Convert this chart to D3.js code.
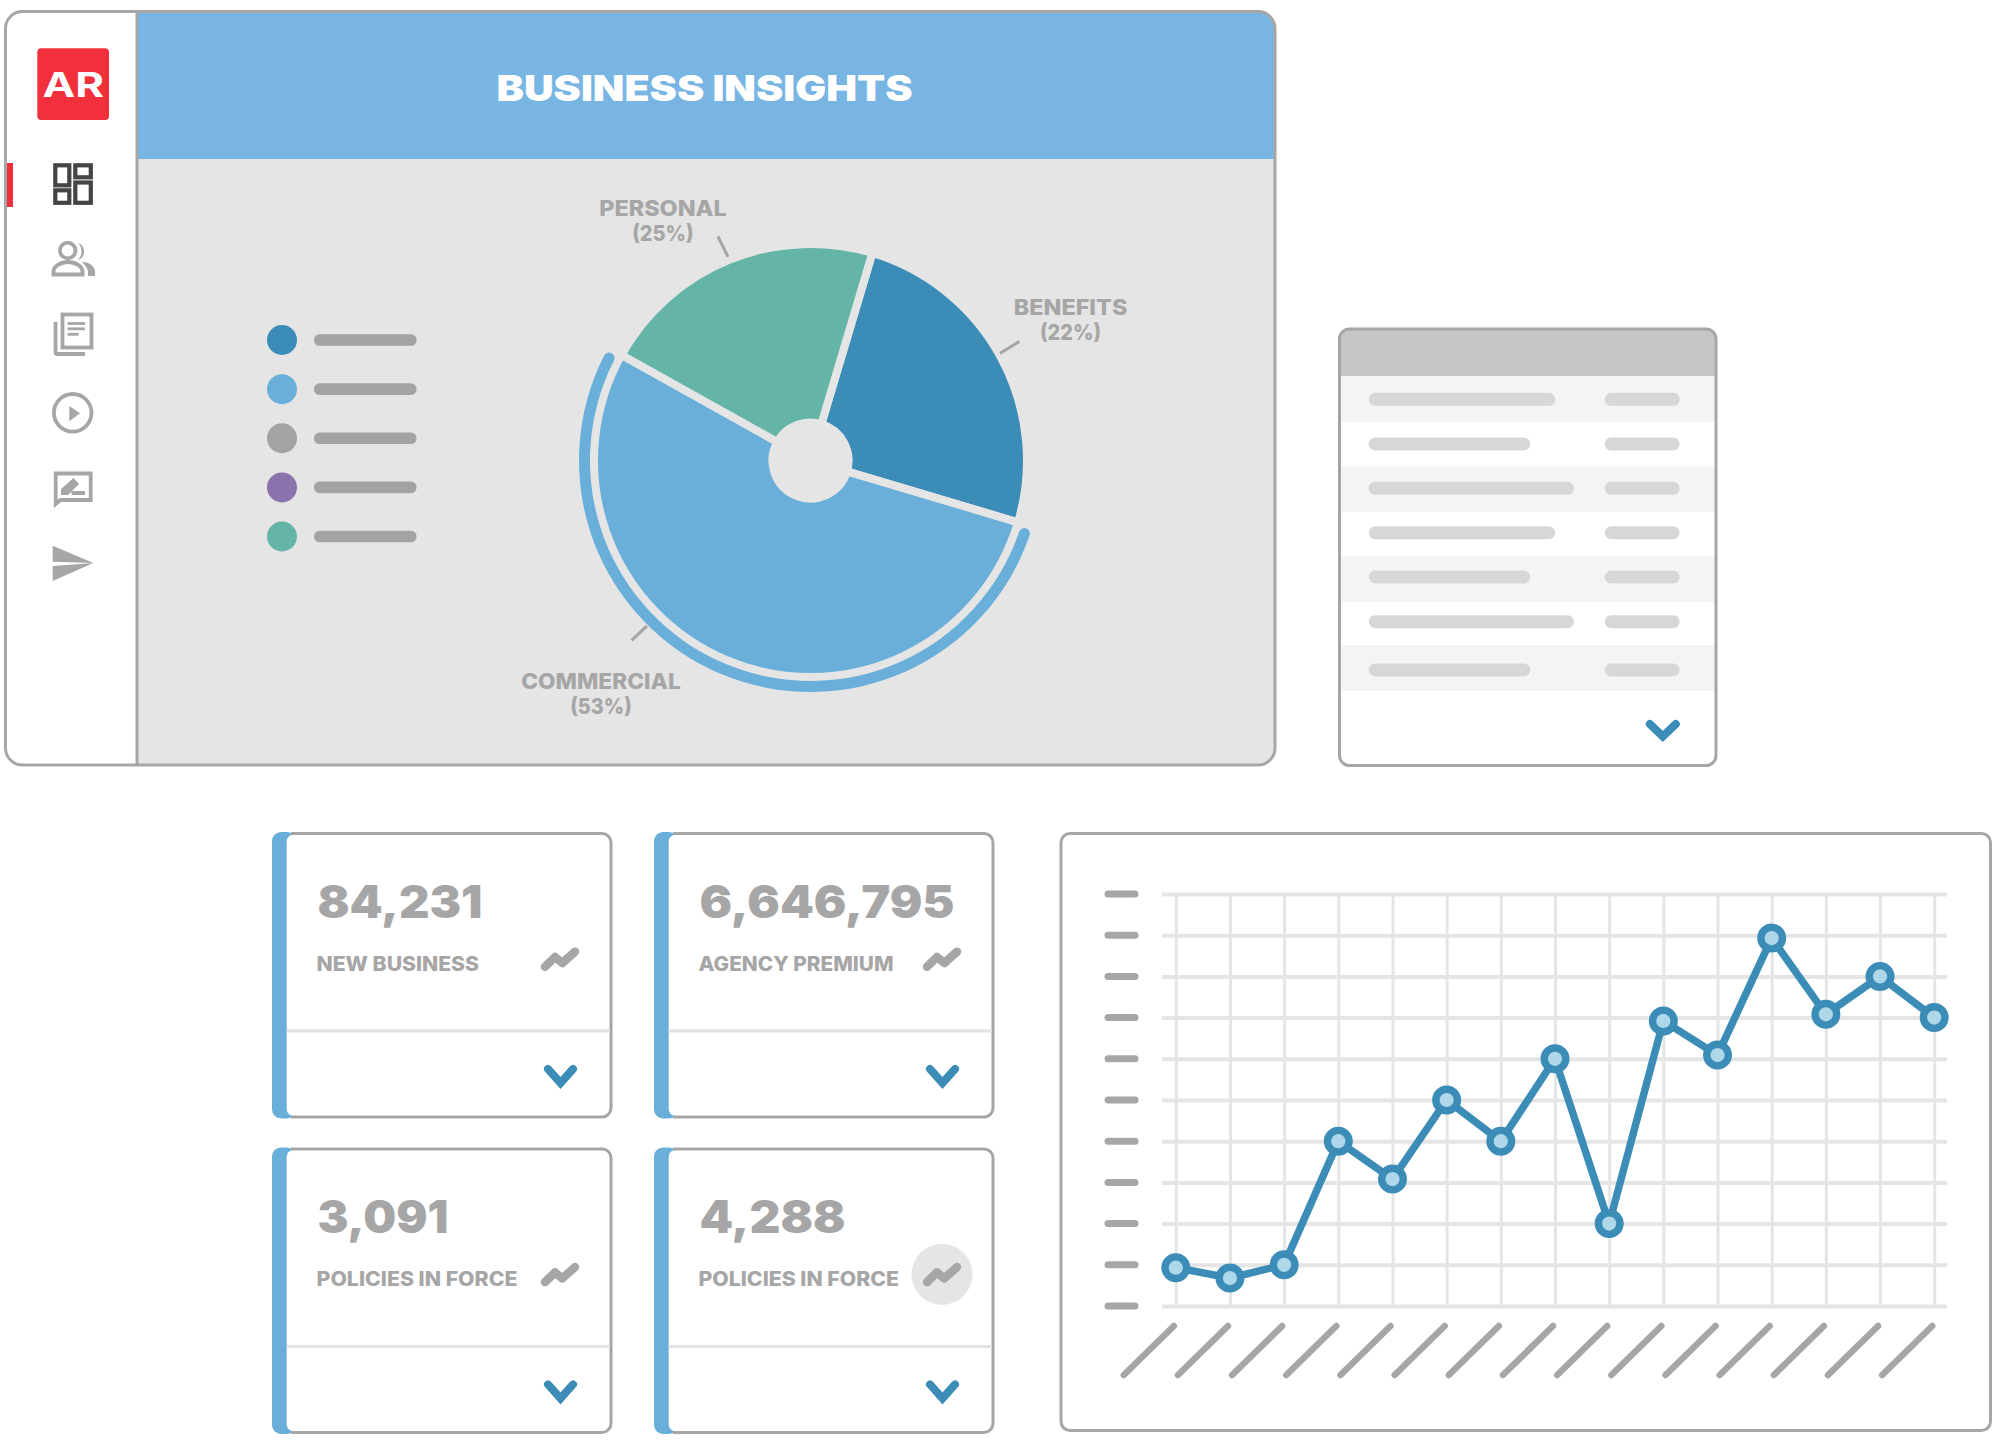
<!DOCTYPE html>
<html>
<head>
<meta charset="utf-8">
<title>Business Insights</title>
<script src="https://cdn.jsdelivr.net/npm/d3@7/dist/d3.min.js"></script>
<style>
html,body{margin:0;padding:0;background:#fff}
svg{display:block}
text{font-family:Inter,"Open Sans",sans-serif}
</style>
</head>
<body>
<svg id="chart" width="2000" height="1444" viewBox="0 0 2000 1444"></svg>
<script>
// ---------- data ----------
const titleText = "BUSINESS INSIGHTS";
const logoText = "AR";
// wedge sizes as drawn, clockwise from the top-right wedge (% of the circle)
const wedgeNames = ["wedgeDark", "wedgeBlue", "wedgeGreen"];
const wedgeValues = [25, 53.5, 21.5];
// the printed callouts
const calloutNames = ["PERSONAL", "BENEFITS", "COMMERCIAL"];
const calloutPercents = ["(25%)", "(22%)", "(53%)"];
const cardValues = ["84,231", "6,646,795", "3,091", "4,288"];
const cardLabels = ["NEW BUSINESS", "AGENCY PREMIUM", "POLICIES IN FORCE", "POLICIES IN FORCE"];
const periods = d3.range(1, 16);
const lineValues = [0.93, 0.68, 1.0, 4.0, 3.08, 5.0, 4.0, 6.0, 2.0, 6.92, 6.09, 8.93, 7.08, 8.0, 7.0];
const yTicks = d3.range(0, 11);
const legendKeys = ["dark", "blue", "grey", "purple", "green"];

// ---------- palette ----------
const C = {
  border:"#a6a6a6", panel:"#e5e5e5", header:"#78b5e2", red:"#f1303c",
  dark:"#3b8cb7", blue:"#69afd9", green:"#64b5a7", grey:"#a3a3a3", purple:"#8b74ad",
  marker:"#aed8ea", rowShade:"#f4f4f4", tableHead:"#c6c6c6", tableBar:"#d7d7d7",
  iconDark:"#444444"
};
const legendColors = {dark:C.dark, blue:C.blue, grey:C.grey, purple:C.purple, green:C.green};
const wedgeColors = {wedgeDark:C.dark, wedgeBlue:C.blue, wedgeGreen:C.green};

const svg = d3.select("#chart");
const defs = svg.append("defs");

function fitText(g, str, x, y, size, weight, fill, width, anchor){
  return g.append("text").text(str)
    .attr("x", x).attr("y", y)
    .attr("font-size", size).attr("font-weight", weight).attr("fill", fill)
    .attr("text-anchor", anchor || "start")
    .attr("textLength", width).attr("lengthAdjust", "spacingAndGlyphs");
}

// ---------- main frame ----------
const F = {x:5.5, y:11.5, w:1269.5, h:753.5, r:17, side:137, headB:159};
defs.append("clipPath").attr("id", "frameClip").append("rect")
  .attr("x", F.x).attr("y", F.y).attr("width", F.w).attr("height", F.h).attr("rx", F.r);
const frame = svg.append("g").attr("clip-path", "url(#frameClip)");
frame.append("rect").attr("x", F.x).attr("y", F.y).attr("width", F.w).attr("height", F.h).attr("fill", "#fff");
frame.append("rect").attr("x", F.side).attr("y", F.y).attr("width", F.w).attr("height", F.h).attr("fill", C.panel);
frame.append("rect").attr("x", F.side).attr("y", F.y).attr("width", F.w).attr("height", F.headB - F.y).attr("fill", C.header);
frame.append("rect").attr("x", 5).attr("y", 163).attr("width", 8).attr("height", 44).attr("fill", C.red);
svg.append("rect").attr("x", F.x).attr("y", F.y).attr("width", F.w).attr("height", F.h).attr("rx", F.r)
  .attr("fill", "none").attr("stroke", C.border).attr("stroke-width", 3);
svg.append("line").attr("x1", F.side).attr("x2", F.side).attr("y1", F.y).attr("y2", F.y + F.h)
  .attr("stroke", C.border).attr("stroke-width", 3);

fitText(svg, titleText, 496.5, 100.7, 35, 900, "#fff", 416);

// ---------- logo and sidebar icons ----------
svg.append("rect").attr("x", 37.3).attr("y", 48.3).attr("width", 71.7).attr("height", 71.7).attr("rx", 4).attr("fill", C.red);
fitText(svg, logoText, 42.5, 96.7, 34.5, 700, "#fff", 61.5);

const icons = svg.append("g").attr("fill", "none").attr("stroke", C.border).attr("stroke-width", 3.8);
// dashboard
[[55.3,165.3,14,20],[75.3,165.3,15.5,12],[55.3,190.3,14,12.5],[75.3,182.5,15.5,20.3]].forEach(r=>{
  icons.append("rect").attr("x", r[0]).attr("y", r[1]).attr("width", r[2]).attr("height", r[3])
    .attr("stroke", C.iconDark).attr("stroke-width", 4.2);
});
// people
icons.append("circle").attr("cx", 67.7).attr("cy", 250.5).attr("r", 7.8);
icons.append("path").attr("d", "M53.5 274.5v-3c0-5 7-9.5 14.5-9.5s14.5 4.5 14.5 9.5v3z");
icons.append("path").attr("stroke", "none").attr("fill", C.border)
  .attr("d", "M78 243a9 9 0 0 1 0 17a12 12 0 0 0 0-17z");
icons.append("path").attr("stroke", "none").attr("fill", C.border)
  .attr("d", "M82 262c8 0 13 5 13 9v5h-7v-4c0-3-3-7-6-10z");
// news
icons.append("rect").attr("x", 62.5).attr("y", 314.5).attr("width", 29).attr("height", 33);
icons.append("path").attr("d", "M55.5 322v30a2 2 0 0 0 2 2H85");
[[67.5,85,323.5],[67.5,85,328.8],[67.5,78.5,334.3]].forEach(l=>{
  icons.append("line").attr("x1", l[0]).attr("x2", l[1]).attr("y1", l[2]).attr("y2", l[2]).attr("stroke-width", 2.8);
});
// play
icons.append("circle").attr("cx", 72.7).attr("cy", 412.8).attr("r", 18.8);
icons.append("path").attr("stroke", "none").attr("fill", C.border).attr("d", "M69.3 406l10.7 7.3-10.7 8z");
// chat
icons.append("path").attr("d", "M55.7 473.5h35v26.5H60.5l-4.8 4z");
icons.append("path").attr("stroke", "none").attr("fill", C.border).attr("d", "M61 495v-6l12.5-11 5.5 6-11 11z");
icons.append("rect").attr("stroke", "none").attr("fill", C.border).attr("x", 71.5).attr("y", 491).attr("width", 13.5).attr("height", 4);
// send
icons.append("path").attr("stroke", "none").attr("fill", C.border).attr("d", "M52.7 545.7L93.3 563l-40.6-1.3z");
icons.append("path").attr("stroke", "none").attr("fill", C.border).attr("d", "M52.7 566l40.6-3-40.6 18z");

// ---------- legend ----------
const legendY = d3.scalePoint().domain(legendKeys).range([340, 536.5]);
const legend = svg.append("g");
legend.selectAll("circle").data(legendKeys).join("circle")
  .attr("cx", 282).attr("cy", d => legendY(d)).attr("r", 15).attr("fill", d => legendColors[d]);
legend.selectAll("rect").data(legendKeys).join("rect")
  .attr("x", 314).attr("y", d => legendY(d) - 5.8).attr("width", 102.5).attr("height", 11.6).attr("rx", 5.5).attr("fill", C.grey);

// ---------- pie ----------
const deg = Math.PI / 180;
const startA = 16.6 * deg;
const pieData = d3.pie().value(d => d).sort(null).startAngle(startA).endAngle(startA + 2 * Math.PI)(wedgeValues);
const pieG = svg.append("g").attr("transform", "translate(810.5,460.5)");
const wedgeArc = d3.arc().innerRadius(38).outerRadius(216.5);
pieG.selectAll("path.wedge").data(pieData).join("path").attr("class", "wedge")
  .attr("d", wedgeArc)
  .attr("fill", (d, i) => wedgeColors[wedgeNames[i]])
  .attr("stroke", C.panel).attr("stroke-width", 8).attr("stroke-linejoin", "miter");
const hl = pieData[1];
pieG.append("path").attr("fill", C.blue).attr("d", d3.arc()
  .innerRadius(220.5).outerRadius(231.5).cornerRadius(5.5)
  .startAngle(hl.startAngle + 0.015).endAngle(hl.endAngle - 0.015)());

// callouts
const calloutCenters = [663, 1070.5, 601];
const calloutY = [215.8, 314.6, 688.7];
const calloutW = [127.5, 113.7, 159.6];
const calloutPW = [61.5, 61.2, 61.6];
const leaders = [[717.9,236.3,728,256.9],[1019.4,341.5,1000,353.4],[647,625.8,631.6,640.4]];
calloutNames.forEach((n, i) => {
  fitText(svg, n, calloutCenters[i], calloutY[i], 22, 800, C.border, calloutW[i], "middle");
  fitText(svg, calloutPercents[i], calloutCenters[i], calloutY[i] + 25, 22, 800, C.border, calloutPW[i], "middle");
  svg.append("line").attr("x1", leaders[i][0]).attr("y1", leaders[i][1]).attr("x2", leaders[i][2]).attr("y2", leaders[i][3])
    .attr("stroke", C.border).attr("stroke-width", 3);
});

// ---------- table ----------
const table = {x:1339.5, y:329, w:376.5, h:436.5};
const rowEdges = [376, 422, 466.3, 511.7, 556, 601.7, 645, 691];
const rowCenters = [399.3, 444, 488.3, 532.7, 577, 621.7, 670];
const rowBarEnds = [1555.3, 1530.3, 1574, 1555.3, 1530.3, 1574, 1530.3];
defs.append("clipPath").attr("id", "tableClip").append("rect")
  .attr("x", table.x).attr("y", table.y).attr("width", table.w).attr("height", table.h).attr("rx", 10);
const tG = svg.append("g");
const tClip = tG.append("g").attr("clip-path", "url(#tableClip)");
tClip.append("rect").attr("x", table.x).attr("y", table.y).attr("width", table.w).attr("height", table.h).attr("fill", "#fff");
tClip.append("rect").attr("x", table.x).attr("y", table.y).attr("width", table.w).attr("height", rowEdges[0] - table.y).attr("fill", C.tableHead);
rowCenters.forEach((c, i) => {
  if (i % 2 === 0) tClip.append("rect").attr("x", table.x).attr("y", rowEdges[i]).attr("width", table.w)
    .attr("height", rowEdges[i + 1] - rowEdges[i]).attr("fill", C.rowShade);
  tG.append("rect").attr("x", 1368.7).attr("y", c - 6.5).attr("width", rowBarEnds[i] - 1368.7).attr("height", 13).attr("rx", 6.5).attr("fill", C.tableBar);
  tG.append("rect").attr("x", 1604.7).attr("y", c - 6.5).attr("width", 75).attr("height", 13).attr("rx", 6.5).attr("fill", C.tableBar);
});
tG.append("rect").attr("x", table.x).attr("y", table.y).attr("width", table.w).attr("height", table.h).attr("rx", 10)
  .attr("fill", "none").attr("stroke", C.border).attr("stroke-width", 3);

function chevron(g, cx, topY, halfW, h, sw){
  g.append("path").attr("d", `M${cx - halfW} ${topY}L${cx} ${topY + h}L${cx + halfW} ${topY}`)
    .attr("fill", "none").attr("stroke", C.dark).attr("stroke-width", sw)
    .attr("stroke-linecap", "round").attr("stroke-linejoin", "miter");
}
chevron(svg, 1662.8, 724, 13, 12.5, 8);

// ---------- KPI cards ----------
const cardW = 340, cardH = 286, colStep = 382, rowStep = 315.4;
const valueWidths = [165, 255, 131, 146];
const labelWidths = [162.5, 195, 201, 200.5];
cardValues.forEach((v, i) => {
  const x0 = 272 + (i % 2) * colStep;
  const y0 = 832 + Math.floor(i / 2) * rowStep;
  const g = svg.append("g").attr("transform", `translate(${x0},${y0})`);
  g.append("rect").attr("width", 24).attr("height", cardH + 0.5).attr("rx", 9).attr("fill", C.blue);
  g.append("path").attr("fill", "#fff")
    .attr("d", `M14.7 10a7 7 0 0 1 7-7.5H60V284H21.7a7 7 0 0 1-7-7z`);
  g.append("rect").attr("x", 60).attr("y", 1).attr("width", cardW - 61).attr("height", cardH - 1).attr("rx", 9).attr("fill", "#fff");
  g.append("path").attr("fill", "none").attr("stroke", C.border).attr("stroke-width", 3)
    .attr("d", `M19 1.5H${cardW - 10}a9 9 0 0 1 9 9V${cardH - 10}a9 9 0 0 1 -9 9H19`);
  g.append("line").attr("x1", 14.7).attr("x2", cardW - 2).attr("y1", 199).attr("y2", 199)
    .attr("stroke", "#e2e2e2").attr("stroke-width", 3);
  fitText(g, v, 45.5, 86, 45, 900, C.border, valueWidths[i]);
  fitText(g, cardLabels[i], 44.5, 139, 20, 800, C.border, labelWidths[i]);
  if (i === 3) g.append("circle").attr("cx", 288).attr("cy", 127).attr("r", 30.5).attr("fill", C.panel);
  g.append("path").attr("d", "M273 134.7L283 125L290.3 131L303 119.7")
    .attr("fill", "none").attr("stroke", C.border).attr("stroke-width", 8.5)
    .attr("stroke-linecap", "round").attr("stroke-linejoin", "round");
  chevron(g, 288.5, 237, 12.5, 14, 8);
});

// ---------- line chart ----------
svg.append("rect").attr("x", 1061).attr("y", 833.5).attr("width", 929.5).attr("height", 597)
  .attr("rx", 9).attr("fill", "#fff").attr("stroke", C.border).attr("stroke-width", 3);
const plot = {l:1162, r:1947, t:894, b:1306};
const x = d3.scalePoint().domain(periods).range([1175.8, 1934.2]);
const y = d3.scaleLinear().domain([0, 10]).range([plot.b, plot.t]);

// vertical grid
svg.append("g").attr("transform", `translate(0,${plot.b})`)
  .call(d3.axisBottom(x).tickSize(-(plot.b - plot.t)).tickFormat(""))
  .call(g => g.select(".domain").remove())
  .call(g => g.selectAll("line").attr("stroke", C.panel).attr("stroke-width", 3));
// horizontal grid
svg.append("g").attr("transform", `translate(${plot.l},0)`)
  .call(d3.axisLeft(y).tickValues(yTicks).tickSize(-(plot.r - plot.l)).tickFormat(""))
  .call(g => g.select(".domain").remove())
  .call(g => g.selectAll("line").attr("stroke", C.panel).attr("stroke-width", 4));
// placeholder tick marks
svg.append("g").selectAll("line").data(yTicks).join("line")
  .attr("x1", 1108).attr("x2", 1135).attr("y1", d => y(d)).attr("y2", d => y(d))
  .attr("stroke", C.border).attr("stroke-width", 7).attr("stroke-linecap", "round");
svg.append("g").selectAll("line").data(periods).join("line")
  .attr("x1", d => x(d) - 2).attr("y1", 1326)
  .attr("x2", d => x(d) - 52).attr("y2", 1375)
  .attr("stroke", C.border).attr("stroke-width", 6.5).attr("stroke-linecap", "round");
// series
const series = periods.map((p, i) => [p, lineValues[i]]);
svg.append("path").datum(series)
  .attr("d", d3.line().x(d => x(d[0])).y(d => y(d[1])))
  .attr("fill", "none").attr("stroke", C.dark).attr("stroke-width", 7.5).attr("stroke-linejoin", "round");
svg.append("g").selectAll("circle").data(series).join("circle")
  .attr("cx", d => x(d[0])).attr("cy", d => y(d[1])).attr("r", 10.8)
  .attr("fill", C.marker).attr("stroke", C.dark).attr("stroke-width", 7.4);
</script>
</body>
</html>
